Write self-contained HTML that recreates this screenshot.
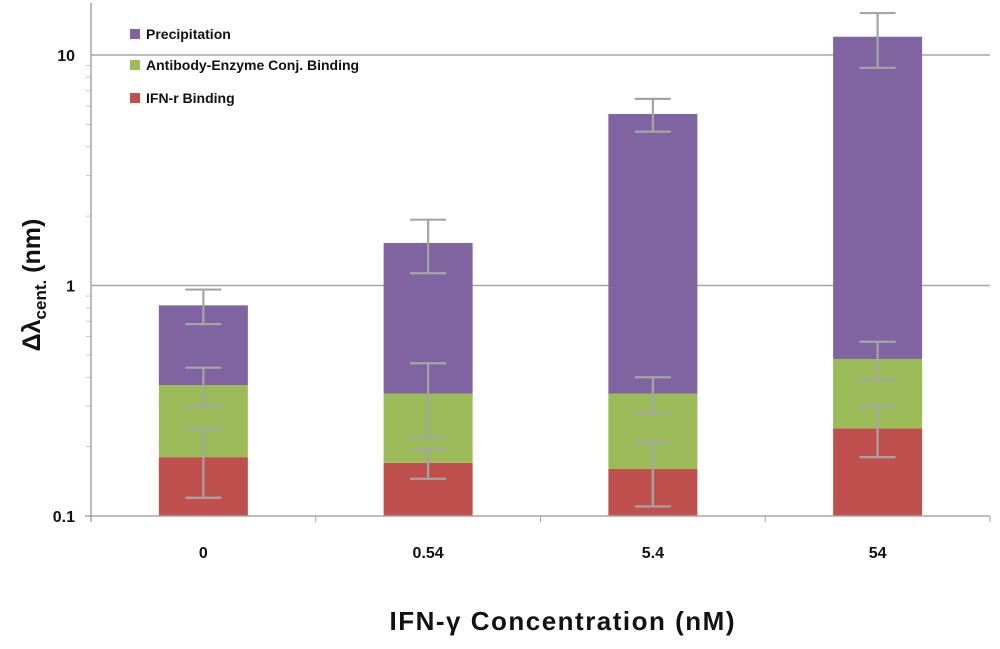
<!DOCTYPE html>
<html><head><meta charset="utf-8"><style>
body{margin:0;background:#fff;width:1000px;height:644px;overflow:hidden}
svg text{font-family:"Liberation Sans",sans-serif;font-weight:bold;fill:#111}
</style></head><body>
<svg id="chart" width="1000" height="644" xmlns="http://www.w3.org/2000/svg">
<g id="grid"></g>
<g id="bars"></g>
<g id="errs"></g>
<g id="axes"></g>
<g>
 <rect x="130" y="29" width="10" height="10" fill="#8064a2"/>
 <text x="146" y="39" font-size="14">Precipitation</text>
 <rect x="130" y="60" width="10" height="10" fill="#9bbb59"/>
 <text x="146" y="70" font-size="14">Antibody-Enzyme Conj. Binding</text>
 <rect x="130" y="93" width="10" height="10" fill="#c0504d"/>
 <text x="146" y="103" font-size="14">IFN-r Binding</text>
</g>
<text x="562" y="630" font-size="26" text-anchor="middle" textLength="345">IFN-γ Concentration (nM)</text>
<text transform="translate(40,285) rotate(-90)" font-size="25" text-anchor="middle">Δλ<tspan font-size="17" dy="6">cent.</tspan><tspan dy="-6"> (nm)</tspan></text>
</svg>
<script>
const categories=["0","0.54","5.4","54"];
const ifnBinding=[0.18,0.17,0.16,0.24];
const antibodyBinding=[0.19,0.17,0.18,0.24];
const precipitation=[0.45,1.19,5.21,11.52];
const ifnErr=[0.06,0.025,0.05,0.06];
const antibodyErr=[0.07,0.12,0.06,0.09];
const precipErr=[0.14,0.4,0.9,3.2];
const yTicks=[0.1,1,10];
const yTickLabels=["0.1","1","10"];

const X0=91,X1=990,DEC=230.5,YB=516;
function yS(v){return YB-DEC*Math.log10(v/0.1);}
const cw=(X1-X0)/categories.length;
function xC(i){return X0+cw*(i+0.5);}
const NS="http://www.w3.org/2000/svg";
function mk(p,t,a){const e=document.createElementNS(NS,t);for(const k in a)e.setAttribute(k,a[k]);p.appendChild(e);return e;}
const grid=document.getElementById('grid'),bars=document.getElementById('bars'),errs=document.getElementById('errs'),axes=document.getElementById('axes');
yTicks.forEach((t,i)=>{
 if(i>0){const g=mk(grid,'line',{x1:X0,x2:X1,y1:yS(t),y2:yS(t),stroke:'#a6a6a6','stroke-width':1.5});
 
 }
 const tx=mk(axes,'text',{x:75,y:yS(t)+6,'font-size':16,'text-anchor':'end'});tx.textContent=yTickLabels[i];
 
 
});
for(let d=0.1;d<100;d*=10){for(let m=2;m<=9;m++){const v=d*m;const y=yS(v);if(y<2)continue;
 const tk=mk(axes,'line',{x1:X0-5,x2:X0,y1:y,y2:y,stroke:'#c8c8c8'});
 
 }}
const ya=mk(axes,'line',{x1:X0,x2:X0,y1:3,y2:YB+5,stroke:'#a6a6a6','stroke-width':1.5});


const xa=mk(axes,'line',{x1:X0-6,x2:X1,y1:YB,y2:YB,stroke:'#a6a6a6','stroke-width':1.5});


for(let i=0;i<=categories.length;i++){const tk=mk(axes,'line',{x1:X0+cw*i,x2:X0+cw*i,y1:YB,y2:YB+6,stroke:'#a6a6a6'});
 
 }
const series=[[ifnBinding,ifnErr,'#c0504d','ifn'],[antibodyBinding,antibodyErr,'#9bbb59','antibody'],[precipitation,precipErr,'#8064a2','precip']];
categories.forEach((c,i)=>{
 let base=0.1,cum=0;
 series.forEach(s=>{
  cum+=s[0][i];
  const top=cum;
  const r=mk(bars,'rect',{x:xC(i)-44.5,width:89,y:yS(top),height:yS(base)-yS(top),fill:s[2]});
  
  
  base=top;
  const e=s[1][i],hi=yS(top+e),lo=yS(Math.max(top-e,0.101)),x=xC(i);
  const p=mk(errs,'path',{d:`M${x} ${hi}V${lo}M${x-18} ${hi}H${x+18}M${x-18} ${lo}H${x+18}`,stroke:'#a5a5a5','stroke-width':2.2,fill:'none'});
  
  
 });
 const t=mk(axes,'text',{x:xC(i),y:558,'font-size':16,'text-anchor':'middle'});t.textContent=c;
 
 
});
</script>
</body></html>
